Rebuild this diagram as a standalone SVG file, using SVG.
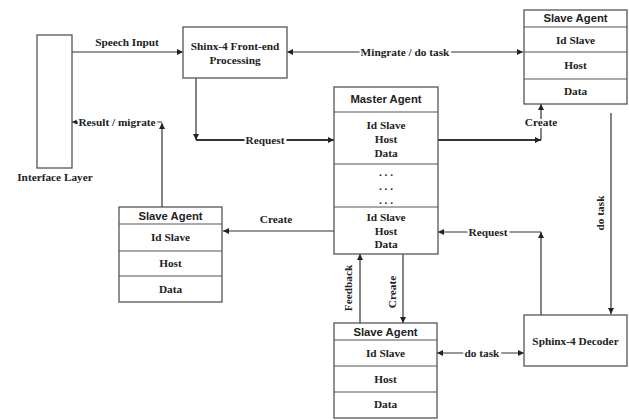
<svg xmlns="http://www.w3.org/2000/svg" width="629" height="420" viewBox="0 0 629 420">
<style>
.box{fill:#fff;stroke:#555;stroke-width:1.3}
.sep{stroke:#555;stroke-width:1.2}
.ln{fill:none;stroke:#333;stroke-width:1.2}
.thk{fill:none;stroke:#333;stroke-width:2}
.t{font-family:"Liberation Serif","Times New Roman",serif;font-weight:bold;font-size:11.3px;fill:#222;text-anchor:middle;dominant-baseline:central}
.h{font-family:"Liberation Sans",Arial,sans-serif;font-weight:bold;font-size:11.3px;fill:#222;text-anchor:middle;dominant-baseline:central}
.lb{paint-order:stroke;stroke:#fff;stroke-width:4}
</style>
<defs>
<marker id="arr" viewBox="0 0 10 10" refX="10" refY="5" markerWidth="6" markerHeight="6" markerUnits="userSpaceOnUse" orient="auto-start-reverse">
<path d="M0,0 L10,5 L0,10 z" fill="#222"/>
</marker>
</defs>
<rect width="629" height="420" fill="#fff"/>
<g id="connectors">
<path class="ln" d="M72,52 H183" marker-end="url(#arr)"/>
<path class="ln" d="M287,52 H523" marker-start="url(#arr)" marker-end="url(#arr)"/>
<path class="ln" d="M196,78 V140" marker-end="url(#arr)"/>
<path class="thk" d="M196,140 H334" marker-end="url(#arr)"/>
<path class="thk" d="M438,140 H541" marker-end="url(#arr)"/>
<path class="ln" d="M541,140 V104" marker-end="url(#arr)"/>
<path class="ln" d="M611,113 V314" marker-end="url(#arr)"/>
<path class="ln" d="M541,315 V232" marker-end="url(#arr)"/>
<path class="ln" d="M541,232 H438" marker-end="url(#arr)"/>
<path class="ln" d="M437,353 H524" marker-start="url(#arr)" marker-end="url(#arr)"/>
<path class="ln" d="M360,323 V254" marker-end="url(#arr)"/>
<path class="ln" d="M403,254 V323" marker-end="url(#arr)"/>
<path class="ln" d="M334,231 H223" marker-end="url(#arr)"/>
<path class="ln" d="M162,207 V123" marker-end="url(#arr)"/>
<path class="ln" d="M162,122 H72" marker-end="url(#arr)"/>
<text class="t" x="127" y="42">Speech Input</text>
<text class="t lb" x="405" y="52">Mingrate / do task</text>
<text class="t lb" x="265" y="140">Request</text>
<text class="t lb" x="541" y="122">Create</text>
<text class="t lb" x="117" y="122">Result / migrate</text>
<text class="t" x="276" y="219">Create</text>
<text class="t lb" x="488" y="232">Request</text>
<text class="t lb" x="482" y="353">do task</text>
<text class="t" transform="translate(600,213) rotate(-90)">do task</text>
<text class="t" transform="translate(348,288) rotate(-90)">Feedback</text>
<text class="t" transform="translate(392,292) rotate(-90)">Create</text>
</g>
<g id="interface-layer">
<rect class="box" x="37" y="35" width="35" height="133"/>
<text class="t" x="55" y="177">Interface Layer</text>
</g>
<g id="front-end">
<rect class="box" x="183" y="27" width="104" height="51"/>
<text class="t" x="235" y="46">Shinx-4 Front-end</text>
<text class="t" x="235" y="60">Processing</text>
</g>
<g id="slave-agent-top">
<rect class="box" x="524" y="10" width="103" height="94"/>
<line class="sep" x1="524" y1="27" x2="627" y2="27"/>
<line class="sep" x1="524" y1="52" x2="627" y2="52"/>
<line class="sep" x1="524" y1="79" x2="627" y2="79"/>
<text class="h" x="575.5" y="17.5">Slave Agent</text>
<text class="t" x="575.5" y="40">Id Slave</text>
<text class="t" x="575.5" y="65">Host</text>
<text class="t" x="575.5" y="91">Data</text>
</g>
<g id="master-agent">
<rect class="box" x="334" y="87" width="104" height="167"/>
<line class="sep" x1="334" y1="112" x2="438" y2="112"/>
<line class="sep" x1="334" y1="164" x2="438" y2="164"/>
<line class="sep" x1="334" y1="207" x2="438" y2="207"/>
<text class="h" x="386" y="99">Master Agent</text>
<text class="t" x="386" y="125">Id Slave</text>
<text class="t" x="386" y="139">Host</text>
<text class="t" x="386" y="153">Data</text>
<text class="t" x="386" y="172">. . .</text>
<text class="t" x="386" y="186">. . .</text>
<text class="t" x="386" y="200">. . .</text>
<text class="t" x="386" y="217">Id Slave</text>
<text class="t" x="386" y="231">Host</text>
<text class="t" x="386" y="244">Data</text>
</g>
<g id="slave-agent-left">
<rect class="box" x="119" y="207" width="103" height="95"/>
<line class="sep" x1="119" y1="224" x2="222" y2="224"/>
<line class="sep" x1="119" y1="251" x2="222" y2="251"/>
<line class="sep" x1="119" y1="276" x2="222" y2="276"/>
<text class="h" x="170.5" y="216">Slave Agent</text>
<text class="t" x="170.5" y="237">Id Slave</text>
<text class="t" x="170.5" y="263">Host</text>
<text class="t" x="170.5" y="289">Data</text>
</g>
<g id="slave-agent-bottom">
<rect class="box" x="334" y="323" width="103" height="95"/>
<line class="sep" x1="334" y1="340" x2="437" y2="340"/>
<line class="sep" x1="334" y1="366" x2="437" y2="366"/>
<line class="sep" x1="334" y1="392" x2="437" y2="392"/>
<text class="h" x="385.5" y="332">Slave Agent</text>
<text class="t" x="385.5" y="353">Id Slave</text>
<text class="t" x="385.5" y="379">Host</text>
<text class="t" x="385.5" y="404">Data</text>
</g>
<g id="sphinx-decoder">
<rect class="box" x="524" y="315" width="103" height="51"/>
<text class="t" x="575.5" y="341">Sphinx-4 Decoder</text>
</g>
</svg>
